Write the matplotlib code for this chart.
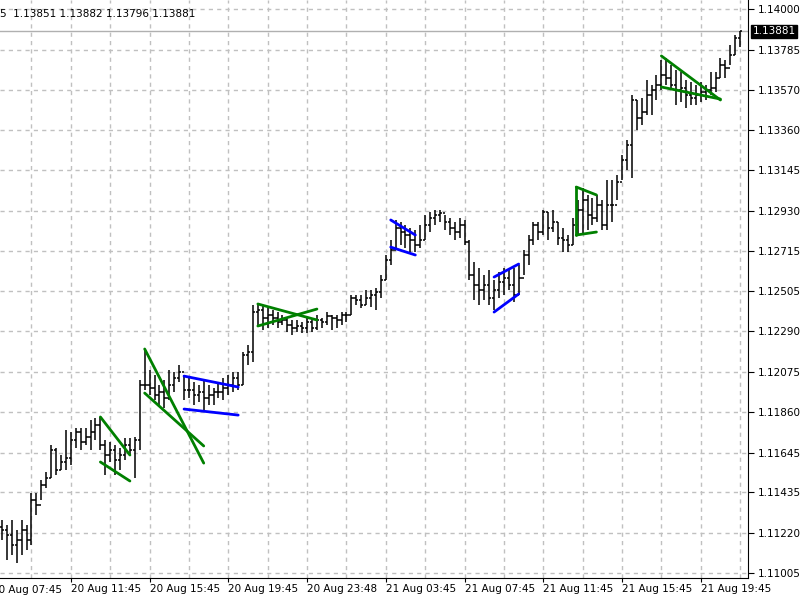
import matplotlib
matplotlib.use("Agg")
import matplotlib.pyplot as plt
import numpy as np

highs = [1.11287,1.11260,1.11287,1.11234,1.11287,1.11260,1.11430,1.11430,1.11499,1.11542,
1.11685,1.11669,1.11632,1.11765,1.11754,1.11775,1.11775,1.11775,1.11818,1.11828,
1.11834,1.11712,1.11701,1.11685,1.11669,1.11722,1.11722,1.11728,1.12030,1.12189,
1.12083,1.12057,1.12004,1.12030,1.12083,1.12073,1.12110,1.12057,1.12041,1.12020,
1.12004,1.12030,1.12004,1.11988,1.12014,1.12041,1.12057,1.12073,1.12073,1.12179,
1.12216,1.12428,1.12439,1.12428,1.12413,1.12402,1.12391,1.12375,1.12359,1.12349,
1.12349,1.12338,1.12359,1.12359,1.12375,1.12359,1.12391,1.12375,1.12375,1.12391,
1.12391,1.12482,1.12482,1.12482,1.12508,1.12508,1.12519,1.12588,1.12694,1.12774,
1.12880,1.12869,1.12853,1.12837,1.12827,1.12853,1.12906,1.12922,1.12933,1.12933,
1.12906,1.12890,1.12869,1.12890,1.12880,1.12774,1.12657,1.12625,1.12588,1.12614,
1.12561,1.12604,1.12625,1.12614,1.12625,1.12641,1.12720,1.12800,1.12869,1.12869,
1.12933,1.12922,1.12933,1.12869,1.12837,1.12800,1.12890,1.12986,1.13050,1.13013,
1.12997,1.13013,1.12986,1.13092,1.13092,1.13119,1.13225,1.13305,1.13544,1.13517,
1.13528,1.13623,1.13597,1.13650,1.13729,1.13740,1.13703,1.13676,1.13666,1.13623,
1.13613,1.13597,1.13613,1.13597,1.13666,1.13666,1.13740,1.13729,1.13809,1.13862,
1.13882]
lows = [1.11181,1.11074,1.11101,1.11058,1.11101,1.11127,1.11154,1.11313,1.11393,1.11457,
1.11510,1.11526,1.11552,1.11552,1.11579,1.11669,1.11658,1.11685,1.11658,1.11712,
1.11658,1.11526,1.11595,1.11526,1.11552,1.11605,1.11632,1.11510,1.11658,1.11977,
1.11951,1.11924,1.11897,1.11882,1.11924,1.11966,1.12020,1.11924,1.11935,1.11897,
1.11913,1.11860,1.11897,1.11897,1.11935,1.11924,1.11951,1.11966,1.11977,1.12004,
1.12110,1.12126,1.12322,1.12296,1.12306,1.12322,1.12306,1.12322,1.12285,1.12269,
1.12285,1.12280,1.12280,1.12285,1.12296,1.12306,1.12322,1.12296,1.12306,1.12322,
1.12338,1.12375,1.12428,1.12413,1.12428,1.12418,1.12402,1.12466,1.12561,1.12641,
1.12720,1.12747,1.12731,1.12710,1.12710,1.12731,1.12774,1.12816,1.12853,1.12869,
1.12827,1.12800,1.12774,1.12784,1.12747,1.12561,1.12455,1.12428,1.12455,1.12428,
1.12402,1.12466,1.12482,1.12508,1.12444,1.12482,1.12588,1.12641,1.12747,1.12774,
1.12800,1.12774,1.12816,1.12747,1.12710,1.12710,1.12747,1.12800,1.12811,1.12827,
1.12853,1.12869,1.12827,1.12827,1.12869,1.12986,1.13092,1.13145,1.13103,1.13358,
1.13384,1.13437,1.13437,1.13517,1.13570,1.13597,1.13570,1.13490,1.13506,1.13475,
1.13490,1.13490,1.13506,1.13517,1.13544,1.13559,1.13634,1.13634,1.13703,1.13756,
1.13796]
closes = [1.11234,1.11207,1.11154,1.11181,1.11234,1.11181,1.11393,1.11366,1.11473,1.11510,
1.11658,1.11552,1.11595,1.11616,1.11712,1.11754,1.11701,1.11728,1.11754,1.11791,
1.11685,1.11632,1.11658,1.11605,1.11632,1.11685,1.11658,1.11712,1.12004,1.12004,
1.11988,1.11951,1.11966,1.11935,1.12004,1.12041,1.12073,1.11977,1.11977,1.11951,
1.11966,1.11935,1.11951,1.11966,1.11966,1.11988,1.12004,1.12041,1.12004,1.12163,
1.12179,1.12391,1.12402,1.12359,1.12375,1.12359,1.12338,1.12349,1.12322,1.12306,
1.12317,1.12306,1.12338,1.12306,1.12349,1.12338,1.12370,1.12359,1.12349,1.12375,
1.12375,1.12466,1.12455,1.12428,1.12466,1.12482,1.12497,1.12561,1.12667,1.12720,
1.12837,1.12816,1.12800,1.12774,1.12747,1.12774,1.12853,1.12890,1.12906,1.12917,
1.12869,1.12837,1.12816,1.12853,1.12763,1.12588,1.12535,1.12508,1.12535,1.12466,
1.12508,1.12551,1.12572,1.12535,1.12482,1.12572,1.12694,1.12774,1.12853,1.12816,
1.12922,1.12837,1.12869,1.12784,1.12774,1.12747,1.12853,1.12933,1.12986,1.12906,
1.12890,1.12959,1.12853,1.12959,1.12959,1.13082,1.13198,1.13278,1.13517,1.13421,
1.13453,1.13544,1.13570,1.13597,1.13650,1.13634,1.13597,1.13570,1.13581,1.13544,
1.13528,1.13544,1.13559,1.13570,1.13581,1.13634,1.13703,1.13687,1.13756,1.13846,
1.13881]
first_open = 1.11250
opens = [first_open] + closes[:-1]

green = "#008000"
blue = "#0000ff"
pattern_lines = [
    (20, 1.11834, 26, 1.11632, green), (20, 1.11595, 26, 1.11494, green),
    (29, 1.12195, 41, 1.11589, green), (29, 1.11961, 41, 1.11680, green),
    (37, 1.12051, 48, 1.11993, blue), (37, 1.11876, 48, 1.11844, blue),
    (52, 1.12434, 64, 1.12349, green), (52, 1.12317, 64, 1.12407, green),
    (79, 1.12880, 84, 1.12800, blue), (79, 1.12736, 84, 1.12694, blue),
    (100, 1.12577, 105, 1.12646, blue), (100, 1.12391, 105, 1.12487, blue),
    (116.7, 1.13055, 120.8, 1.13013, green), (116.7, 1.12800, 120.8, 1.12816, green),
    (116.7, 1.13055, 116.7, 1.12800, green),
    (134, 1.13751, 146, 1.13517, green), (134, 1.13586, 146, 1.13522, green),
]

ytick_labels = ["1.14000","1.13785","1.13570","1.13360","1.13145","1.12930","1.12715",
                "1.12505","1.12290","1.12075","1.11860","1.11645","1.11435","1.11220","1.11005"]
xtick_bars = [-2, 14, 30, 46, 62, 78, 94, 110, 126, 142]
xtick_labels = ["20 Aug 07:45","20 Aug 11:45","20 Aug 15:45","20 Aug 19:45","20 Aug 23:48",
                "21 Aug 03:45","21 Aug 07:45","21 Aug 11:45","21 Aug 15:45","21 Aug 19:45"]
header = "5  1.13851 1.13882 1.13796 1.13881"
last_price = 1.13881

fig = plt.figure(figsize=(8, 6), dpi=100)
ax = fig.add_axes([0, 22/600, 748/800, 578/600])
n = len(closes)
x = np.arange(n)
ax.vlines(x, lows, highs, color="black", lw=1.1, zorder=3)
ax.hlines(opens, x - 0.45, x, color="black", lw=1.1, zorder=3)
ax.hlines(closes, x, x + 0.45, color="black", lw=1.1, zorder=3)
for b0, p0, b1, p1, c in pattern_lines:
    ax.plot([b0, b1], [p0, p1], color=c, lw=2, zorder=4, solid_capstyle="round")

yvals = [float(s) for s in ytick_labels]
for yv in yvals:
    ax.axhline(yv, color="#c0c0c0", ls=(0, (3, 3)), lw=1, zorder=1)
for gb in range(6, 152, 8):
    ax.axvline(gb, color="#c0c0c0", ls=(0, (3, 3)), lw=1, zorder=1)
ax.axhline(last_price, color="#b0b0b0", lw=1, zorder=2)

ax.yaxis.tick_right()
ax.set_yticks(yvals)
ax.set_yticklabels(ytick_labels, fontsize=7.5)
ax.tick_params(axis="y", length=4, pad=3)
ax.set_xticks(xtick_bars[1:])
ax.set_xticklabels(xtick_labels[1:], fontsize=7.5, ha="left")
ax.tick_params(axis="x", length=3, pad=1)
ax.set_xlim(-0.4, 151.6)
ax.set_ylim(1.10979, 1.14048)
# first label is partly outside the plot on the left, as in the reference
lbl0 = ax.get_xticklabels()[0]
ax.text(xtick_bars[0], 0, xtick_labels[0], transform=ax.get_xaxis_transform(),
        fontsize=7.5, ha="left", va="top", clip_on=False)
fig.canvas.draw()
t0 = ax.texts[-1]
t0.set_y(ax.get_xticklabels()[0].get_position()[1])
for s in ["top", "left"]:
    ax.spines[s].set_visible(False)
ax.text(1.006, last_price, "1.13881", transform=ax.get_yaxis_transform(), fontsize=7.5,
        color="white", va="center", ha="left",
        bbox=dict(boxstyle="square,pad=0.15", fc="black", ec="black"), zorder=10, clip_on=False)
ax.text(0.0, 0.975, header, transform=ax.transAxes, fontsize=7.5, va="center", ha="left")
# align the manual first label with the tick labels
import matplotlib.transforms as mtrans
t0.set_transform(ax.get_xaxis_transform() + mtrans.ScaledTranslation(0, -5/72, fig.dpi_scale_trans))
t0.set_y(0)
fig.savefig("out.png", dpi=100)
